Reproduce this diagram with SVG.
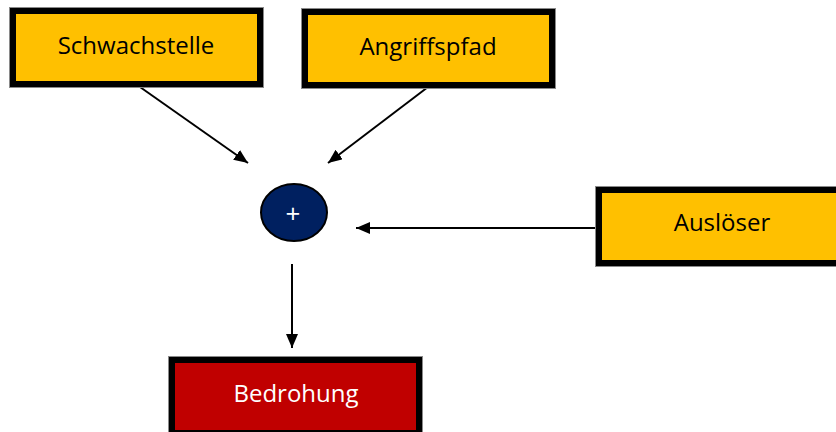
<svg xmlns="http://www.w3.org/2000/svg" width="836" height="432" viewBox="0 0 836 432">
  <style>
    .box { stroke: #000; stroke-width: 6; }
    .edge { fill: none; stroke: #8a8a8a; stroke-width: 1; }
    .amber { fill: #FFC000; }
    .red { fill: #C00000; }
    .lbl { font-family: "Open Sans", "Liberation Sans", sans-serif; font-size: 24px; text-anchor: middle; dominant-baseline: central; }
    .dark { fill: #000; }
    .light { fill: #fff; }
    .conn { stroke: #000; stroke-width: 2; fill: none; marker-end: url(#head); }
  </style>
  <defs>
    <marker id="head" viewBox="0 0 14 12" refX="14" refY="6" markerWidth="14" markerHeight="12" markerUnits="userSpaceOnUse" orient="auto">
      <path d="M0,0 L14,6 L0,12 z" fill="#000"/>
    </marker>
  </defs>
  <rect width="836" height="432" fill="#fff"/>

  <g id="connectors">
    <path d="M140,87 L248,163" class="conn"/>
    <path d="M428,87 L328,163" class="conn"/>
    <path d="M596,228 L356,228" class="conn"/>
    <path d="M292,264 L292,348" class="conn"/>
  </g>

  <g id="schwachstelle">
    <rect class="box amber" x="13" y="11" width="247" height="73"/>
    <rect class="edge" x="9.5" y="7.5" width="254" height="80"/>
    <text class="lbl dark" x="136" y="44">Schwachstelle</text>
  </g>

  <g id="angriffspfad">
    <rect class="box amber" x="305" y="12" width="247" height="73"/>
    <rect class="edge" x="301.5" y="8.5" width="254" height="80"/>
    <text class="lbl dark" x="428" y="45">Angriffspfad</text>
  </g>

  <g id="ausloeser">
    <rect class="box amber" x="599" y="190" width="247" height="73"/>
    <rect class="edge" x="595.5" y="186.5" width="254" height="80"/>
    <text class="lbl dark" x="722" y="221">Auslöser</text>
  </g>

  <g id="plus">
    <ellipse cx="294" cy="212.5" rx="33" ry="28.5" fill="#002060" stroke="#000" stroke-width="2"/>
    <text class="lbl light" x="293" y="213" font-size="26" style="font-size:26px">+</text>
  </g>

  <g id="bedrohung">
    <rect class="box red" x="172" y="360" width="247" height="73"/>
    <rect class="edge" x="168.5" y="356.5" width="254" height="80"/>
    <text class="lbl light" x="296" y="392">Bedrohung</text>
  </g>
</svg>
